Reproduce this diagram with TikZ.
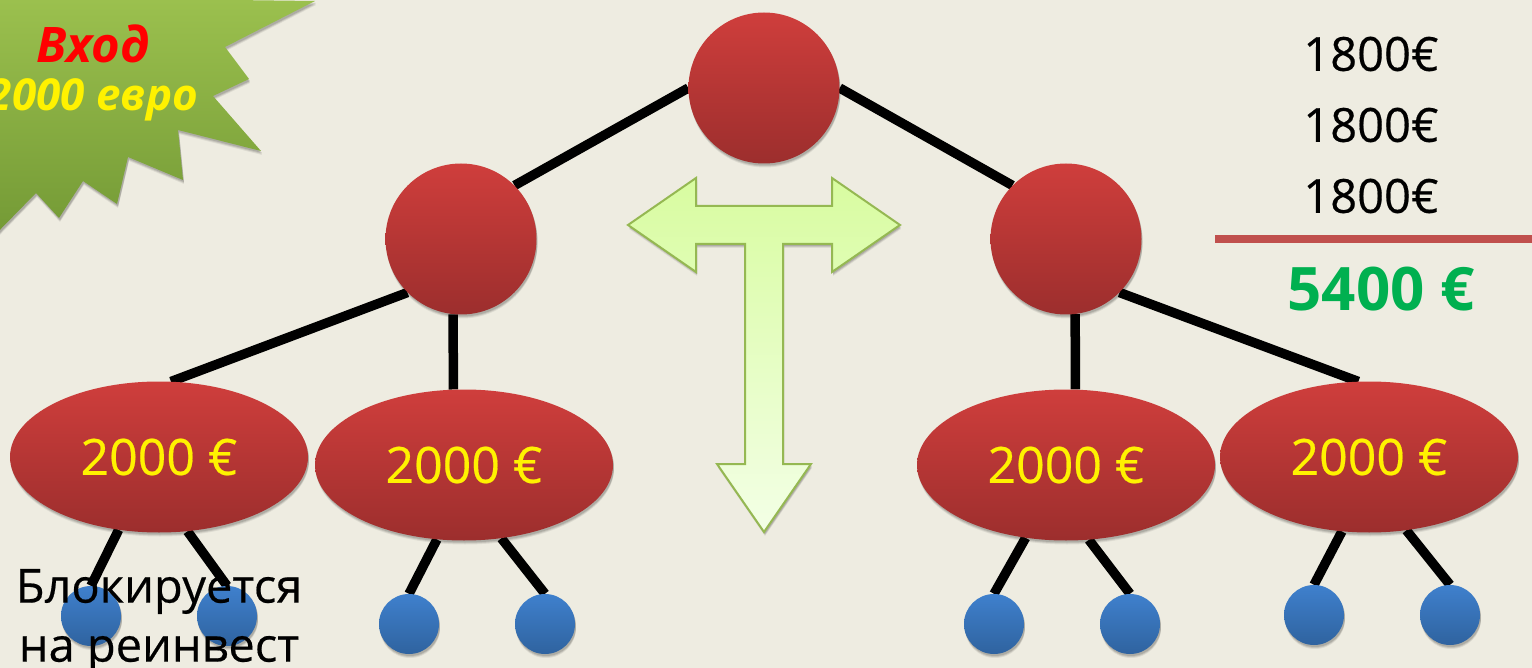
\documentclass[tikz,border=0pt]{standalone}
\usepackage{fontspec}
\setmainfont{Open Sans}
\newfontfamily\thickfont[FakeBold=0.4]{Open Sans}
\usetikzlibrary{shapes.geometric,shadows,backgrounds}
\definecolor{bg}{HTML}{EEECE1}
\definecolor{red1}{HTML}{CF3E3C}
\definecolor{red2}{HTML}{9C2E2D}
\definecolor{blue1}{HTML}{3F80CD}
\definecolor{blue2}{HTML}{2F639F}
\definecolor{starA}{HTML}{9BC04E}
\definecolor{starB}{HTML}{739935}
\definecolor{arrowA}{HTML}{D8FCA0}
\definecolor{arrowB}{HTML}{F3FFE6}
\definecolor{arrowline}{HTML}{95B852}
\definecolor{rule}{HTML}{C0504D}
\definecolor{sumgreen}{HTML}{00B050}
\newcommand{\fsz}[1]{\fontsize{#1}{#1}\selectfont}
\tikzset{
  softshadow/.style={
    drop shadow={shadow xshift=1pt,shadow yshift=-4pt,opacity=.07,fill=black},
    drop shadow={shadow xshift=1pt,shadow yshift=-3pt,opacity=.10,fill=black},
    drop shadow={shadow xshift=1pt,shadow yshift=-2pt,opacity=.12,fill=black}},
  redshape/.style={softshadow,top color=red1,bottom color=red2,inner sep=0pt,draw=none},
  bigcircle/.style={redshape,circle,minimum size=151pt},
  redellipse/.style={redshape,ellipse,minimum width=298pt,minimum height=151pt,text=yellow,font=\thickfont\fsz{50}},
  smallcircle/.style={softshadow,circle,top color=blue1,bottom color=blue2,minimum size=60pt,inner sep=0pt},
  link/.style={line width=9.5pt,black},
  sumtext/.style={font=\thickfont\fsz{47},text=black,inner sep=0pt}
}
\begin{document}
\begin{tikzpicture}[x=1pt,y=-1pt]
\useasboundingbox (0,0) rectangle (1532,668);
\begin{scope}[on background layer]
\fill[bg] (0,0) rectangle (1532,668);
\end{scope}
\node[bigcircle] (top) at (764,88) {};
\node[bigcircle] (cl) at (461,239) {};
\node[bigcircle] (cr) at (1066,239) {};
\node[redellipse] (e1) at (159,457) {2000 €};
\node[redellipse] (e2) at (464,465) {2000 €};
\node[redellipse] (e3) at (1066,465) {2000 €};
\node[redellipse] (e4) at (1369,457) {2000 €};
\node[smallcircle] (s1) at (91,616) {};
\node[smallcircle] (s2) at (227,616) {};
\node[smallcircle] (s3) at (409,624) {};
\node[smallcircle] (s4) at (545,624) {};
\node[smallcircle] (s5) at (994,624) {};
\node[smallcircle] (s6) at (1130,624) {};
\node[smallcircle] (s7) at (1314,615) {};
\node[smallcircle] (s8) at (1450,615) {};
\begin{scope}[on background layer]
\draw[link] (top.180) -- (cl.45);
\draw[link] (top.0) -- (cr.135);
\draw[link] (cl.225) -- (e1.81);
\draw[link] (cl.264) -- (e2.98);
\draw[link] (cr.277) -- (e3.83);
\draw[link] (cr.315) -- (e4.98);
\draw[link] (e1.241) -- (s1.90);
\draw[link] (e1.291) -- (s2.90);
\draw[link] (e2.250) -- (s3.90);
\draw[link] (e2.297) -- (s4.90);
\draw[link] (e3.241) -- (s5.90);
\draw[link] (e3.287) -- (s6.90);
\draw[link] (e4.250) -- (s7.90);
\draw[link] (e4.297) -- (s8.90);
\end{scope}
% starburst
\path[softshadow,top color=starA,bottom color=starB]
  (0,0) -- (232,0) -- (315,1) -- (225,47) -- (249,79) -- (213,96) -- (261,151) -- (178,130)
  -- (183,180) -- (128,157) -- (117,204) -- (83,181) -- (59,218) -- (36,193) -- (-10,240) -- (-10,0) -- cycle;
\node[font=\fsz{49}\bfseries\itshape,text=red,inner sep=0pt] (t1) at (93,44) {Вход};
\node[font=\fsz{44}\bfseries\itshape,text=yellow,inner sep=0pt] (t2) at (93,100) {2000 евро};
% T arrow
\path[softshadow,draw=arrowline,line width=2pt,top color=arrowA,bottom color=arrowB,line join=miter]
  (628,225) -- (696,178) -- (696,206) -- (832,206) -- (832,178) -- (900,225) -- (832,272) -- (832,244)
  -- (783,244) -- (783,464) -- (811,464) -- (764,532) -- (717,464) -- (745,464) -- (745,244)
  -- (696,244) -- (696,272) -- cycle;
% sum
\node[sumtext] (a1) at (1371,54) {1800€};
\node[sumtext] (a2) at (1371,125) {1800€};
\node[sumtext] (a3) at (1371,196) {1800€};
\coordinate (r1) at (1215,239);
\coordinate (r2) at (1532,239);
\draw[softshadow,line width=8pt,draw=rule] (r1) -- (r2);
\node[font=\fsz{60}\bfseries,text=sumgreen,inner sep=0pt] (total) at (1381,289) {5400 €};
\node[font=\thickfont\fsz{47},text=black,inner sep=0pt,align=center] (note) at (159,621) {Блокируется\\[12pt]на реинвест};
\end{tikzpicture}
\end{document}
